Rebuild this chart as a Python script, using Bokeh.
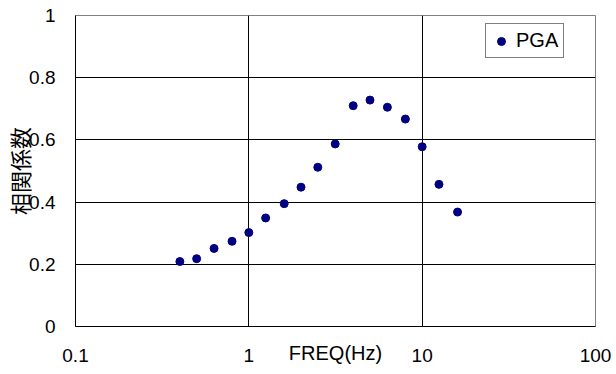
from bokeh.plotting import figure
from bokeh.models import Range1d, FixedTicker, Legend, LegendItem
from bokeh.embed import file_html
from bokeh.resources import INLINE

# Data
freq = [0.4, 0.5, 0.63, 0.8, 1.0, 1.25, 1.6, 2.0, 2.5, 3.15, 4.0, 5.0, 6.3, 8.0, 10.0, 12.5, 16.0]
pga = [0.209, 0.218, 0.251, 0.274, 0.302, 0.349, 0.395, 0.448, 0.512, 0.587, 0.710, 0.728, 0.705, 0.667, 0.578, 0.457, 0.368]

x_ticks = [0.1, 1, 10, 100]
x_tick_labels = ["0.1", "1", "10", "100"]
y_ticks = [0, 0.2, 0.4, 0.6, 0.8, 1.0]
y_tick_labels = ["0", "0.2", "0.4", "0.6", "0.8", "1"]
x_grid = [1, 10]
y_grid = [0.2, 0.4, 0.6, 0.8]

p = figure(frame_width=520, frame_height=311, x_axis_type="log",
           x_range=Range1d(0.1, 100), y_range=Range1d(0, 1),
           output_backend="svg", toolbar_location=None,
           min_border_left=69, min_border_right=19, min_border_top=15, min_border_bottom=40)

p.outline_line_color = "#808080"
p.outline_line_width = 1
p.background_fill_color = "white"
p.border_fill_color = "white"

# axes
p.xaxis.ticker = FixedTicker(ticks=x_ticks, minor_ticks=[])
p.yaxis.ticker = FixedTicker(ticks=y_ticks, minor_ticks=[])
p.xaxis.major_label_overrides = {t: l for t, l in zip(x_ticks, x_tick_labels)}
p.yaxis.major_label_overrides = {t: l for t, l in zip(y_ticks, y_tick_labels)}
for ax in (p.xaxis, p.yaxis):
    ax.major_tick_out = 0
    ax.major_tick_in = 0
    ax.minor_tick_out = 0
    ax.minor_tick_in = 0
    ax.axis_line_color = "black"
    ax.axis_line_width = 1
    ax.major_label_text_font = "Liberation Sans"
    ax.major_label_text_font_size = "19px"
    ax.major_label_text_color = "black"
    ax.axis_label_text_font_style = "normal"
    ax.axis_label_text_color = "black"

p.xaxis.major_label_standoff = 22
p.yaxis.major_label_standoff = 20
p.xaxis.axis_label = "FREQ(Hz)"
p.xaxis.axis_label_text_font = "Liberation Sans"
p.xaxis.axis_label_text_font_size = "20px"
p.xaxis.axis_label_standoff = -23
p.yaxis.axis_label = "相関係数"
p.yaxis.axis_label_text_font = "Noto Sans CJK JP"
p.yaxis.axis_label_text_font_size = "22px"
p.yaxis.axis_label_standoff = -9

# grid
p.xgrid.ticker = FixedTicker(ticks=x_grid)
p.ygrid.ticker = FixedTicker(ticks=y_grid)
p.xgrid.grid_line_color = "black"
p.ygrid.grid_line_color = "black"
p.xgrid.grid_line_width = 1
p.ygrid.grid_line_width = 1

r = p.scatter(freq, pga, size=8, color="#000080", marker="circle")

legend = Legend(items=[LegendItem(label="PGA", renderers=[r])],
                location=(410, 268),
                label_text_font="Liberation Sans", label_text_font_size="20px",
                label_text_color="black",
                glyph_width=20, glyph_height=20, label_standoff=5,
                padding=5, margin=0, spacing=0,
                border_line_color="black", border_line_width=1,
                background_fill_color="white", background_fill_alpha=1)
p.add_layout(legend, "center")

open("out.html", "w").write(file_html(p, INLINE))
